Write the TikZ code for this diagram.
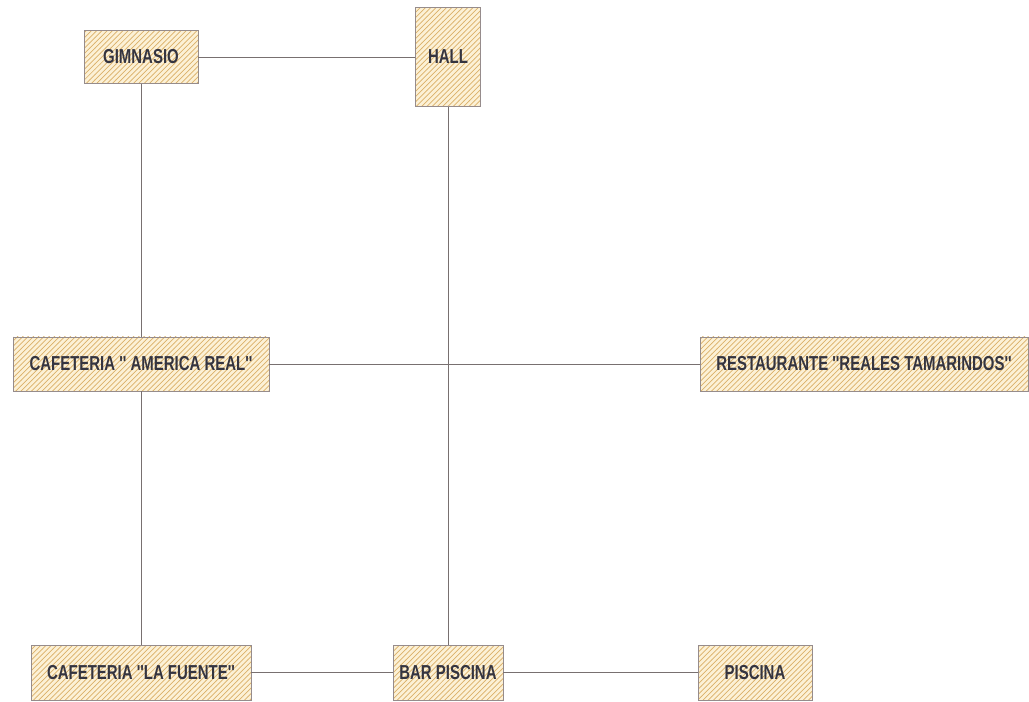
\documentclass[tikz,border=0pt]{standalone}
\usepackage{fontspec}
\usepackage{tikz}
\usetikzlibrary{patterns}
\newfontfamily\salafont[FakeStretch=0.74]{Liberation Sans}
\definecolor{crema}{RGB}{252,241,214}
\definecolor{rayado}{RGB}{218,176,104}
\definecolor{borde}{RGB}{150,140,140}
\definecolor{texto}{RGB}{52,52,64}

\begin{document}
\begin{tikzpicture}[x=1cm, y=1cm, semithick]
    \tikzset{sala/.style={draw=borde, thin, preaction={fill=crema}, pattern=north east lines, pattern color=rayado,
                          text=texto, font=\salafont\bfseries\fontsize{11.5}{13}\selectfont, inner sep=0pt, align=center},
             pasillo/.style={draw=borde!80!black, thin}}
    \useasboundingbox (0,0) rectangle (20.58,-14.04);

    % Fila superior
    \node[sala, minimum width=2.28cm, minimum height=1.06cm] (gimnasio)   at (2.82,-1.14)  {GIMNASIO};
    \node[sala, minimum width=1.30cm, minimum height=1.98cm] (hall)       at (8.96,-1.14)  {HALL};

    % Fila central
    \node[sala, minimum width=5.12cm, minimum height=1.08cm] (americare)  at (2.82,-7.28)  {CAFETERIA '' AMERICA REAL''};
    \node[sala, minimum width=6.56cm, minimum height=1.08cm] (tamarindos) at (17.28,-7.28) {RESTAURANTE ''REALES TAMARINDOS''};

    % Fila inferior
    \node[sala, minimum width=4.40cm, minimum height=1.10cm] (fuente)     at (2.82,-13.45) {CAFETERIA ''LA FUENTE''};
    \node[sala, minimum width=2.20cm, minimum height=1.10cm] (barpiscina) at (8.96,-13.45) {BAR PISCINA};
    \node[sala, minimum width=2.28cm, minimum height=1.10cm] (piscina)    at (15.10,-13.45) {PISCINA};

    \path[pasillo]
        (gimnasio)  edge (hall)
                    edge (americare)
        (americare) edge (fuente)
                    edge (tamarindos)
        (hall)      edge (barpiscina)
        (fuente)    edge (barpiscina)
        (barpiscina) edge (piscina)
    ;
\end{tikzpicture}
\end{document}
